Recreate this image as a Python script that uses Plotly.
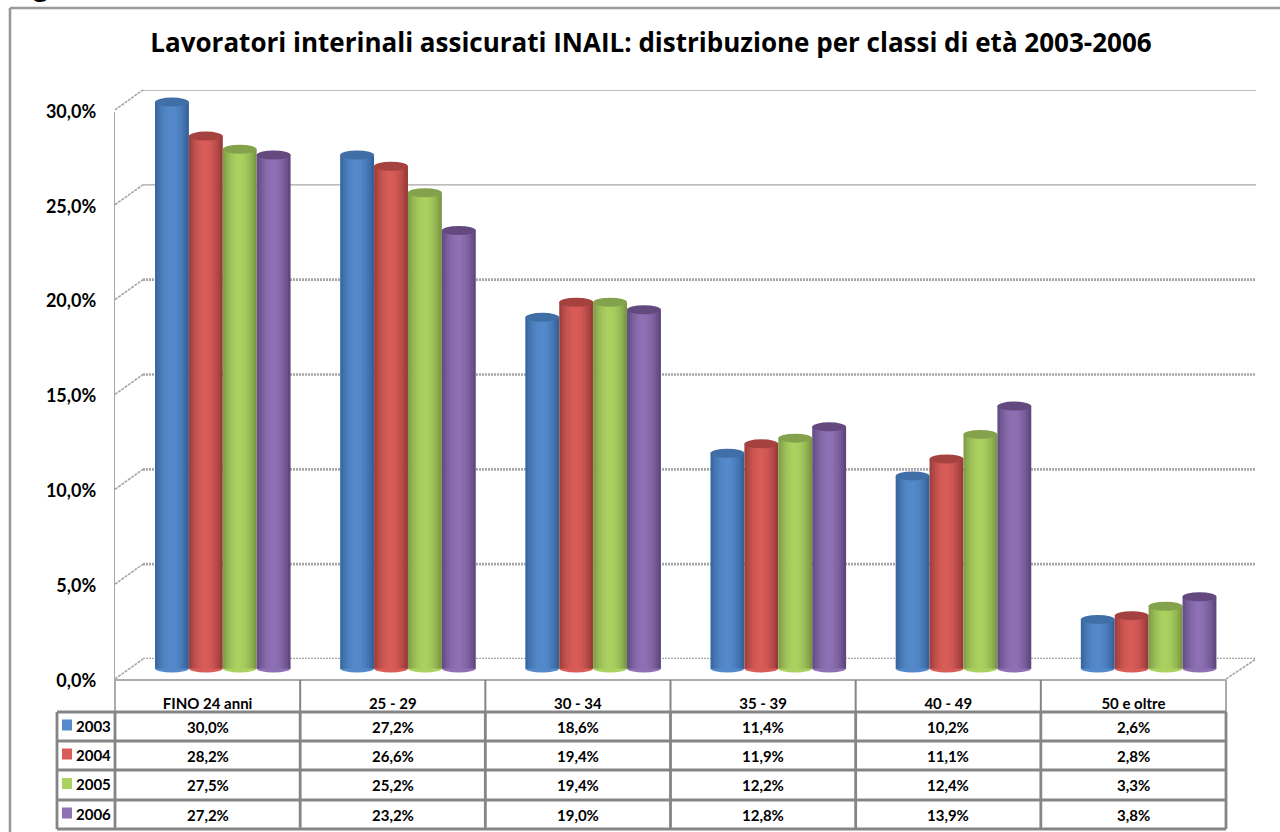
import plotly.graph_objects as go

categories = ["FINO 24 anni", "25 - 29", "30 - 34", "35 - 39", "40 - 49", "50 e oltre"]
years = ["2003", "2004", "2005", "2006"]
v2003 = [30.0, 27.2, 18.6, 11.4, 10.2, 2.6]
v2004 = [28.2, 26.6, 19.4, 11.9, 11.1, 2.8]
v2005 = [27.5, 25.2, 19.4, 12.2, 12.4, 3.3]
v2006 = [27.2, 23.2, 19.0, 12.8, 13.9, 3.8]
y_ticks = [0, 5, 10, 15, 20, 25, 30]
title_text = "Lavoratori interinali assicurati INAIL: distribuzione per classi di età 2003-2006"

series = [v2003, v2004, v2005, v2006]
# edge, centre, top cap
palette = [
    ((48, 92, 146), (84, 138, 203), "#3f6fa6"),
    ((142, 54, 52), (216, 92, 88), "#a5413e"),
    ((116, 144, 64), (171, 209, 96), "#84a24b"),
    ((88, 66, 118), (142, 112, 180), "#64497f"),
]
W, H = 1280, 832
FONT = "Lato"
GRAY = "#858585"
px = lambda x: x / W
py = lambda y: 1 - y / H

TX0, TX1 = 115, 1226
BX0, BX1 = 143, 1256
PERIOD = (TX1 - TX0) / 6
cyl_w = 33.9 / PERIOD
group_start = 155.0 / PERIOD - TX0 / PERIOD - 0.5
SLICES = 13
bar_y0, bar_scale = 668.5, 18.88
row_y = [712, 741, 770, 800, 829]
head_top = 680
col_x = [TX0 + i * PERIOD for i in range(7)]

fig = go.Figure()
fig.add_trace(go.Scatter(x=[0, 1], y=[0, 30], xaxis="x", yaxis="y", mode="none", showlegend=False, hoverinfo="skip"))
for s, vals in enumerate(series):
    edge, mid, cap = palette[s]
    for k in range(SLICES):
        t = abs((k + 0.5) / SLICES - 0.48) / 0.52
        t = t ** 1.9
        c = tuple(round(m + (e - m) * t) for e, m in zip(edge, mid))
        fig.add_trace(go.Bar(
            x=list(range(len(categories))), y=vals,
            xaxis="x2", yaxis="y2",
            width=cyl_w / SLICES + (0.004 if k < SLICES - 1 else 0),
            offset=group_start + s * cyl_w + k * cyl_w / SLICES,
            marker=dict(color=f"rgb{c}", line=dict(width=0)),
            name=years[s], showlegend=False, hoverinfo="skip",
        ))
fig.add_trace(go.Scatter(x=[0, 1], y=[0, 30], xaxis="x2", yaxis="y3", mode="none", showlegend=False, hoverinfo="skip"))

shapes = []
# the chart frame only shows its top and left sides in this crop
shapes.append(dict(type="line", xref="paper", yref="paper", x0=px(10), x1=1, y0=py(8), y1=py(8),
                   line=dict(color="#999999", width=2.6), layer="below"))
shapes.append(dict(type="line", xref="paper", yref="paper", x0=px(10), x1=px(10), y0=py(8), y1=0,
                   line=dict(color="#999999", width=2.6), layer="below"))
for v in y_ticks:
    solid = v >= 25
    shapes.append(dict(type="line", xref="x domain", yref="y", x0=0, x1=1, y0=v, y1=v, layer="below",
                       line=dict(color="#a6a6a6", width=1.4 if solid else 2.6, dash="solid" if solid else "2px,1px")))
    yf = 679 - v * 18.97
    yb = 659 - v * 18.97
    shapes.append(dict(type="line", xref="paper", yref="paper", x0=px(TX0), x1=px(BX0), y0=py(yf), y1=py(yb),
                       layer="below", line=dict(color="#a6a6a6", width=1.6, dash="3px,1px")))
shapes.append(dict(type="line", xref="paper", yref="paper", x0=px(TX1), x1=px(BX1), y0=py(679), y1=py(659),
                   layer="below", line=dict(color="#a6a6a6", width=1.6, dash="3px,1px")))
for s, vals in enumerate(series):
    edge, mid, cap = palette[s]
    for i, v in enumerate(vals):
        xa = i + group_start + s * cyl_w
        xb = xa + cyl_w
        shapes.append(dict(type="circle", xref="x2", yref="y2", ysizemode="pixel",
                           yanchor=0, x0=xa, x1=xb, y0=-4, y1=4, layer="below",
                           fillcolor=f"rgb{mid}", line=dict(width=0)))
        shapes.append(dict(type="circle", xref="x2", yref="y2", ysizemode="pixel",
                           yanchor=v, x0=xa, x1=xb, y0=-4.5, y1=4.5, layer="above",
                           fillcolor=cap, line=dict(width=0)))
shapes.append(dict(type="line", xref="paper", yref="paper", x0=px(TX0), x1=px(TX1), y0=py(head_top), y1=py(head_top),
                   line=dict(color="#ababab", width=2)))
for x in col_x:
    shapes.append(dict(type="line", xref="paper", yref="paper", x0=px(x), x1=px(x), y0=py(head_top), y1=py(row_y[0]),
                       line=dict(color="#ababab" if x in (col_x[0], col_x[-1]) else GRAY, width=2)))
    shapes.append(dict(type="line", xref="paper", yref="paper", x0=px(x), x1=px(x), y0=py(row_y[0]), y1=py(row_y[-1]),
                       line=dict(color=GRAY, width=2.8)))
shapes.append(dict(type="line", xref="paper", yref="paper", x0=px(57), x1=px(57), y0=py(row_y[0]), y1=py(row_y[-1]),
                   line=dict(color=GRAY, width=2.8)))
for y in row_y:
    shapes.append(dict(type="line", xref="paper", yref="paper", x0=px(57), x1=px(TX1), y0=py(y), y1=py(y),
                       line=dict(color=GRAY, width=2.8)))

annotations = []
cell = dict(xref="paper", yref="paper", showarrow=False, font=dict(family=FONT, size=15, color="black", weight=700))
for r, vals in enumerate(series):
    yc = (row_y[r] + row_y[r + 1]) / 2
    annotations.append(dict(cell, x=px(74), y=py(yc - 1), text=years[r], xanchor="left", yanchor="middle"))
    shapes.append(dict(type="rect", xref="paper", yref="paper", x0=px(62), x1=px(72), y0=py(yc - 7), y1=py(yc + 4),
                       fillcolor=f"rgb{palette[r][1]}", line=dict(width=0)))
    for c, v in enumerate(vals):
        annotations.append(dict(cell, x=px(col_x[c] + PERIOD / 2), y=py(yc), yanchor="middle", xanchor="center",
                                text=f"{v:.1f}".replace(".", ",") + "%"))
annotations.append(dict(xref="paper", yref="paper", x=px(6), y=py(5), xanchor="left", yanchor="bottom", showarrow=False,
                        text="Fig", font=dict(family=FONT, size=30, color="black", weight=700)))

fig.update_layout(
    width=W, height=H, margin=dict(l=0, r=0, t=0, b=0, autoexpand=False),
    paper_bgcolor="white", plot_bgcolor="rgba(0,0,0,0)",
    barmode="overlay", separators=",.", showlegend=False,
    font=dict(family=FONT, color="black"),
    title=dict(text=title_text, x=651 / W, xanchor="center", y=py(43), yanchor="middle",
               font=dict(family="Open Sans", size=26, color="black", weight=700)),
    xaxis=dict(domain=[px(BX0), px(BX1)], range=[0, 1], visible=False, fixedrange=True),
    yaxis=dict(domain=[py(659), py(90)], range=[0, 30], visible=False, fixedrange=True),
    xaxis2=dict(domain=[px(TX0), px(TX1)], range=[-0.5, 5.5], anchor="y2", tickmode="array",
                tickvals=list(range(6)), ticktext=categories, ticks="", showgrid=False, zeroline=False,
                showline=False, ticklabelstandoff=14, automargin=False,
                tickfont=dict(family=FONT, size=15, color="black", weight=700)),
    yaxis2=dict(domain=[py(679), py(60)], range=[(bar_y0 - 679) / bar_scale, (bar_y0 - 60) / bar_scale],
                anchor="x2", visible=False, fixedrange=True),
    yaxis3=dict(domain=[py(680.5), py(111.5)], range=[0, 30], anchor="x2", tickmode="linear", tick0=0, dtick=5,
                tickformat=".1f", ticksuffix="%", ticks="", showgrid=False, zeroline=False, automargin=False,
                showline=True, linecolor="#a6a6a6", linewidth=1.4, ticklabelstandoff=14,
                tickfont=dict(family=FONT, size=18, color="black", weight=700)),
    shapes=shapes, annotations=annotations,
)
fig.write_html("out.html", config=dict(displayModeBar=False),
               post_script="document.body.style.margin='0';document.body.style.overflow='hidden';")
